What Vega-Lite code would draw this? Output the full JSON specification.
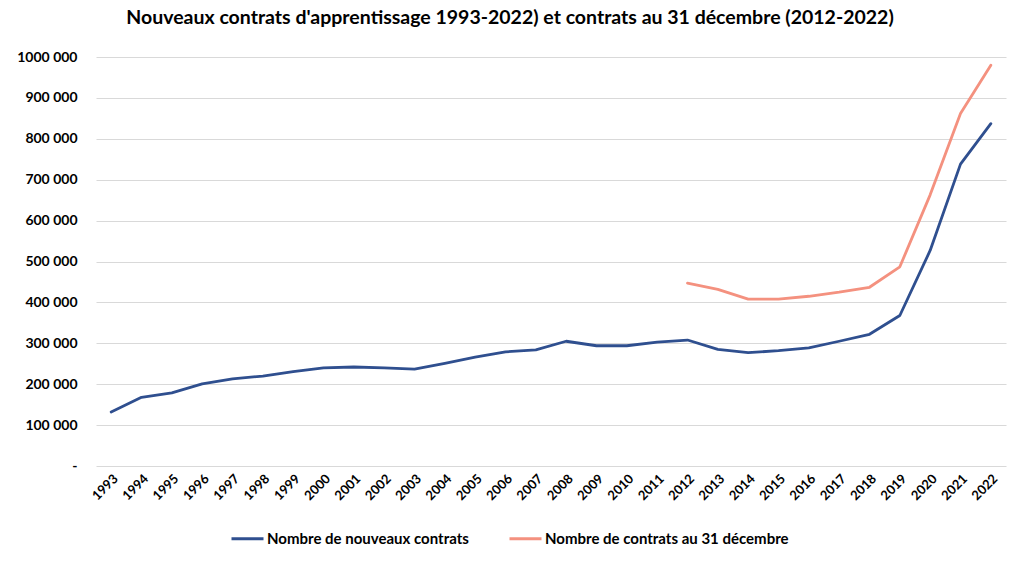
{
  "$schema": "https://vega.github.io/schema/vega-lite/v6.json",
  "autosize": "none",
  "width": 910,
  "height": 409,
  "padding": {"left": 96, "top": 57, "right": 18, "bottom": 97},
  "background": "white",
  "title": {
    "text": "Nouveaux contrats d'apprentissage 1993-2022) et contrats au 31 décembre (2012-2022)",
    "font": "Lato",
    "fontSize": 19.5,
    "fontWeight": "bold",
    "color": "#000000",
    "anchor": "middle",
    "dx": -41,
    "offset": 22
  },
  "data": {
    "values": [
      {"year": "1993", "series": "Nombre de nouveaux contrats", "value": 132000},
      {"year": "1994", "series": "Nombre de nouveaux contrats", "value": 168000},
      {"year": "1995", "series": "Nombre de nouveaux contrats", "value": 179000},
      {"year": "1996", "series": "Nombre de nouveaux contrats", "value": 201000},
      {"year": "1997", "series": "Nombre de nouveaux contrats", "value": 213000},
      {"year": "1998", "series": "Nombre de nouveaux contrats", "value": 220000},
      {"year": "1999", "series": "Nombre de nouveaux contrats", "value": 231000},
      {"year": "2000", "series": "Nombre de nouveaux contrats", "value": 240000},
      {"year": "2001", "series": "Nombre de nouveaux contrats", "value": 242000},
      {"year": "2002", "series": "Nombre de nouveaux contrats", "value": 240000},
      {"year": "2003", "series": "Nombre de nouveaux contrats", "value": 237000},
      {"year": "2004", "series": "Nombre de nouveaux contrats", "value": 251000},
      {"year": "2005", "series": "Nombre de nouveaux contrats", "value": 266000},
      {"year": "2006", "series": "Nombre de nouveaux contrats", "value": 279000},
      {"year": "2007", "series": "Nombre de nouveaux contrats", "value": 284000},
      {"year": "2008", "series": "Nombre de nouveaux contrats", "value": 305000},
      {"year": "2009", "series": "Nombre de nouveaux contrats", "value": 294000},
      {"year": "2010", "series": "Nombre de nouveaux contrats", "value": 294000},
      {"year": "2011", "series": "Nombre de nouveaux contrats", "value": 303000},
      {"year": "2012", "series": "Nombre de nouveaux contrats", "value": 308000},
      {"year": "2013", "series": "Nombre de nouveaux contrats", "value": 285000},
      {"year": "2014", "series": "Nombre de nouveaux contrats", "value": 277000},
      {"year": "2015", "series": "Nombre de nouveaux contrats", "value": 282000},
      {"year": "2016", "series": "Nombre de nouveaux contrats", "value": 289000},
      {"year": "2017", "series": "Nombre de nouveaux contrats", "value": 305000},
      {"year": "2018", "series": "Nombre de nouveaux contrats", "value": 322000},
      {"year": "2019", "series": "Nombre de nouveaux contrats", "value": 368000},
      {"year": "2020", "series": "Nombre de nouveaux contrats", "value": 527000},
      {"year": "2021", "series": "Nombre de nouveaux contrats", "value": 738000},
      {"year": "2022", "series": "Nombre de nouveaux contrats", "value": 837000},
      {"year": "2012", "series": "Nombre de contrats au 31 décembre", "value": 447000},
      {"year": "2013", "series": "Nombre de contrats au 31 décembre", "value": 432000},
      {"year": "2014", "series": "Nombre de contrats au 31 décembre", "value": 408000},
      {"year": "2015", "series": "Nombre de contrats au 31 décembre", "value": 408000},
      {"year": "2016", "series": "Nombre de contrats au 31 décembre", "value": 415000},
      {"year": "2017", "series": "Nombre de contrats au 31 décembre", "value": 425000},
      {"year": "2018", "series": "Nombre de contrats au 31 décembre", "value": 437000},
      {"year": "2019", "series": "Nombre de contrats au 31 décembre", "value": 487000},
      {"year": "2020", "series": "Nombre de contrats au 31 décembre", "value": 663000},
      {"year": "2021", "series": "Nombre de contrats au 31 décembre", "value": 862000},
      {"year": "2022", "series": "Nombre de contrats au 31 décembre", "value": 980000}
    ]
  },
  "mark": {"type": "line", "strokeWidth": 2.8, "strokeCap": "round", "strokeJoin": "round"},
  "encoding": {
    "x": {
      "field": "year",
      "type": "ordinal",
      "scale": {"type": "point", "padding": 0.5},
      "axis": {
        "title": null,
        "labelAngle": -45,
        "labelAlign": "right",
        "labelBaseline": "top",
        "labelPadding": 6,
        "labelFont": "Lato",
        "labelFontSize": 13,
        "labelFontWeight": "bold",
        "labelColor": "#000000",
        "ticks": false,
        "domain": false,
        "grid": false
      }
    },
    "y": {
      "field": "value",
      "type": "quantitative",
      "scale": {"domain": [0, 1000000], "nice": false},
      "axis": {
        "title": null,
        "values": [0, 100000, 200000, 300000, 400000, 500000, 600000, 700000, 800000, 900000, 1000000],
        "labelExpr": "datum.value == 0 ? '-      ' : format(datum.value / 1000, 'd') + ' 000'",
        "labelPadding": 19,
        "labelFont": "Lato",
        "labelFontSize": 14,
        "labelFontWeight": "bold",
        "labelColor": "#000000",
        "ticks": false,
        "domain": false,
        "grid": true,
        "gridColor": "#d9d9d9",
        "gridWidth": 1
      }
    },
    "color": {
      "field": "series",
      "type": "nominal",
      "scale": {
        "domain": ["Nombre de nouveaux contrats", "Nombre de contrats au 31 décembre"],
        "range": ["#2F4F8F", "#F4917F"]
      },
      "legend": {
        "title": null,
        "orient": "none",
        "direction": "horizontal",
        "legendX": 134,
        "legendY": 464,
        "symbolType": "stroke",
        "symbolSize": 1024,
        "symbolStrokeWidth": 3,
        "labelFont": "Lato",
        "labelFontSize": 15,
        "labelFontWeight": "bold",
        "labelColor": "#000000",
        "labelLimit": 0,
        "labelOffset": 2,
        "columnPadding": 34
      }
    }
  },
  "config": {"view": {"stroke": null}}
}
